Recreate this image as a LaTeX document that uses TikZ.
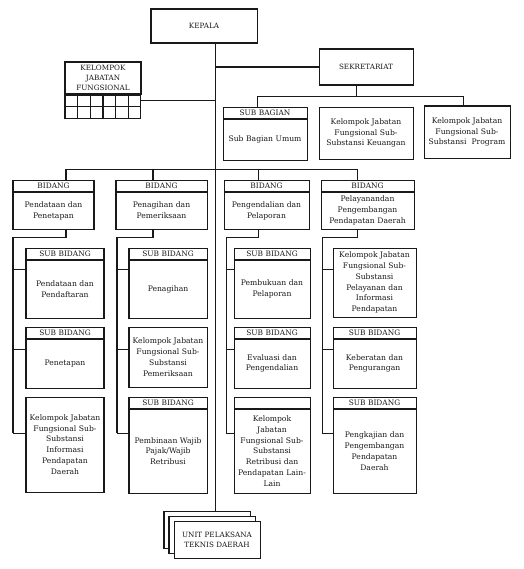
\documentclass[tikz,border=0pt]{standalone}
\usepackage{fontspec}
\setmainfont{DejaVu Serif}
\usetikzlibrary{positioning,calc}
\definecolor{tinta}{RGB}{25,25,25}
\newcommand{\hurufisi}{\fontsize{7.6}{10.8}\selectfont}
\newcommand{\hurufjudul}{\fontsize{7.4}{8}\selectfont}
\tikzset{
  garis/.style={draw=tinta, line width=1pt},
  kotak/.style={draw=tinta, fill=white, line width=1pt, align=center,
    font=\hurufisi, text=tinta, inner sep=0pt, text width=#1},
  kotak/.default=2.73cm,
  judul/.style={kotak=#1, font=\hurufjudul, minimum height=0.385cm},
  judul/.default=2.73cm,
  sel/.style={draw=tinta, line width=1pt, minimum width=0.4433cm,
    minimum height=0.4025cm, inner sep=0pt},
}

\begin{document}
\begin{tikzpicture}
    \useasboundingbox (0,0) rectangle (18.34,-19.915);
    % Pimpinan dan sekretariat
    \node[kotak=3.71cm, minimum height=1.19cm, font=\fontsize{7.2}{9}\selectfont] (kepala) at (7.14,-0.91) {KEPALA};
    \node[kotak=3.29cm, minimum height=1.26cm, font=\fontsize{7.2}{9}\selectfont] (sekr) at (12.81,-2.345) {SEKRETARIAT};
    \node[kotak=2.66cm, minimum height=1.12cm, font=\fontsize{7.2}{10}\selectfont] (kjf) at (3.605,-2.73) {KELOMPOK\\ JABATAN\\ FUNGSIONAL};
    \foreach \r in {1,2}
      \foreach \k in {1,...,6}
        \node[sel, anchor=north west] (c\r\k) at ($(kjf.south west)+({(\k-1)*0.4433},{-(\r-1)*0.4025})$) {};
    \node[judul=2.94cm] (hsubbag) at (9.275,-3.9375) {SUB BAGIAN};
    \node[kotak=2.94cm, minimum height=1.435cm, below=0pt of hsubbag] (subbag) {Sub Bagian Umum};
    \node[kotak=3.29cm, minimum height=1.82cm] (keu) at (12.81,-4.655) {Kelompok Jabatan\\ Fungsional Sub-\\ Substansi Keuangan};
    \node[kotak=3.01cm, minimum height=1.82cm] (prog) at (16.345,-4.62) {Kelompok Jabatan\\ Fungsional Sub-\\ Substansi~ Program};
    % Bidang
    \node[judul=2.835cm] (hb1) at (1.8725,-6.4925) {BIDANG};
    \node[kotak=2.835cm, minimum height=1.295cm, below=0pt of hb1] (b1) {Pendataan dan\\ Penetapan};
    \node[judul=3.185cm] (hb2) at (5.6525,-6.4925) {BIDANG};
    \node[kotak=3.185cm, minimum height=1.295cm, below=0pt of hb2] (b2) {Penagihan dan\\ Pemeriksaan};
    \node[judul=2.975cm] (hb3) at (9.3275,-6.4925) {BIDANG};
    \node[kotak=2.975cm, minimum height=1.295cm, below=0pt of hb3] (b3) {Pengendalian dan\\ Pelaporan};
    \node[judul=3.255cm] (hb4) at (12.8625,-6.4925) {BIDANG};
    \node[kotak=3.255cm, minimum height=1.295cm, below=0pt of hb4] (b4) {Pelayanandan\\ Pengembangan\\ Pendapatan Daerah};
    % Sub bidang kolom 1
    \node[judul] (hs11) at (2.275,-8.8725) {SUB BIDANG};
    \node[kotak, minimum height=2.03cm, below=0pt of hs11] (s11) {Pendataan dan\\ Pendaftaran};
    \node[judul] (hs12) at (2.275,-11.6375) {SUB BIDANG};
    \node[kotak, minimum height=1.715cm, below=0pt of hs12] (s12) {Penetapan};
    \node[kotak, minimum height=3.325cm] (s13) at (2.275,-15.5575) {Kelompok Jabatan\\ Fungsional Sub-\\ Substansi\\ Informasi\\ Pendapatan\\ Daerah};
    % Sub bidang kolom 2
    \node[judul] (hs21) at (5.88,-8.8725) {SUB BIDANG};
    \node[kotak, minimum height=2.03cm, below=0pt of hs21] (s21) {Penagihan};
    \node[kotak, minimum height=2.1cm] (s22) at (5.88,-12.495) {Kelompok Jabatan\\ Fungsional Sub-\\ Substansi\\ Pemeriksaan};
    \node[judul] (hs23) at (5.88,-14.0875) {SUB BIDANG};
    \node[kotak, minimum height=2.94cm, below=0pt of hs23] (s23) {Pembinaan Wajib\\ Pajak/Wajib\\ Retribusi};
    % Sub bidang kolom 3
    \node[judul=2.66cm] (hs31) at (9.52,-8.8725) {SUB BIDANG};
    \node[kotak=2.66cm, minimum height=2.03cm, below=0pt of hs31] (s31) {Pembukuan dan\\ Pelaporan};
    \node[judul=2.66cm] (hs32) at (9.52,-11.6375) {SUB BIDANG};
    \node[kotak=2.66cm, minimum height=1.715cm, below=0pt of hs32] (s32) {Evaluasi dan\\ Pengendalian};
    \node[judul=2.66cm] (hs33) at (9.52,-14.0875) {};
    \node[kotak=2.66cm, minimum height=2.94cm, below=0pt of hs33] (s33) {Kelompok\\ Jabatan\\ Fungsional Sub-\\ Substansi\\ Retribusi dan\\ Pendapatan Lain-\\ Lain};
    % Sub bidang kolom 4
    \node[kotak=2.905cm, minimum height=2.415cm] (s41) at (13.1075,-9.8875) {Kelompok Jabatan\\ Fungsional Sub-\\ Substansi\\ Pelayanan dan\\ Informasi\\ Pendapatan};
    \node[judul=2.905cm] (hs42) at (13.1075,-11.6375) {SUB BIDANG};
    \node[kotak=2.905cm, minimum height=1.715cm, below=0pt of hs42] (s42) {Keberatan dan\\ Pengurangan};
    \node[judul=2.905cm] (hs43) at (13.1075,-14.0875) {SUB BIDANG};
    \node[kotak=2.905cm, minimum height=2.94cm, below=0pt of hs43] (s43) {Pengkajian dan\\ Pengembangan\\ Pendapatan\\ Daerah};
    % UPT bertumpuk
    \node[kotak=3.01cm, minimum height=1.295cm] (upta) at (7.245,-18.55) {};
    \node[kotak=3.01cm, minimum height=1.295cm] (uptb) at (7.42,-18.7075) {};
    \node[kotak=3.01cm, minimum height=1.295cm, font=\fontsize{7.2}{10}\selectfont] (uptc) at (7.595,-18.8825) {UNIT PELAKSANA\\ TEKNIS DAERAH};
    % Titik bantu garis
    \coordinate (tulang) at (7.525,-5.915);
    \coordinate (sk) at (12.46,-3.36);
    \coordinate (sb1) at (9.0,-3.36);
    \coordinate (sb2) at (16.205,-3.36);
    \coordinate (d1) at (2.31,-5.915);
    \coordinate (d2) at (5.355,-5.915);
    \coordinate (d3) at (9.03,-5.915);
    \coordinate (d4) at (12.495,-5.915);
    \coordinate (r1) at (0.455,-8.295);
    \coordinate (r2) at (4.095,-8.295);
    \coordinate (r3) at (7.91,-8.295);
    \coordinate (r4) at (11.27,-8.295);
    \coordinate (t1) at (0,-9.415);
    \coordinate (t2) at (0,-12.215);
    \coordinate (t3) at (0,-15.155);
    % Garis
    \draw[garis] (kepala.south -| tulang) -- (upta.north -| tulang);
    \draw[garis] (sekr.west) -- (sekr.west -| tulang);
    \draw[garis] (c16.east) -- (c16.east -| tulang);
    \draw[garis] (sk |- sekr.south) -- (sk);
    \draw[garis] (sb1 |- hsubbag.north) |- (sb2) -- (sb2 |- prog.north);
    \draw[garis] (d1) -- (d4);
    \foreach \k in {1,...,4} {
      \draw[garis] (d\k) -- (d\k |- hb\k.north);
      \draw[garis] (b\k.south -| d\k) |- (r\k) -- (r\k |- t3);
      \foreach \b in {1,2,3}
        \draw[garis] (r\k |- t\b) -- (s\k\b.west |- t\b);
    }
\end{tikzpicture}
\end{document}
